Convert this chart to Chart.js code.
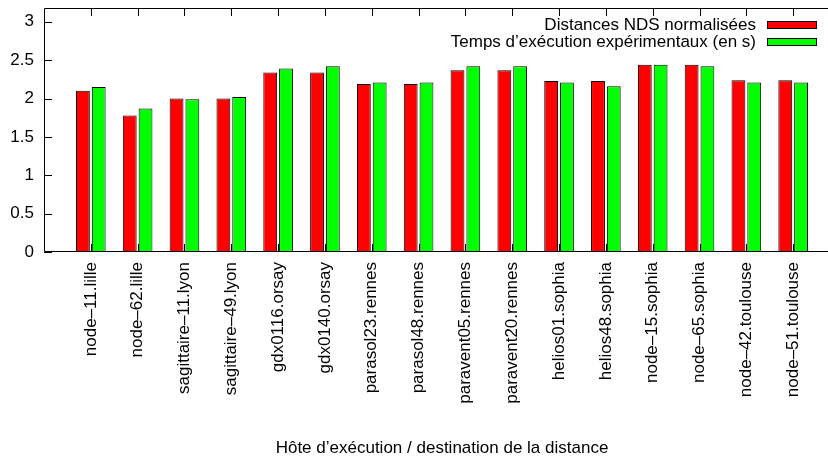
<!DOCTYPE html>
<html lang="fr">
<head>
    <meta charset="UTF-8">
    <title>Distances NDS / temps d'exécution</title>
    <style>
        html, body {
            margin: 0;
            padding: 0;
            overflow: hidden;
            background: #fff;
        }
        canvas { display: block; }
    </style>
    <script src="https://cdn.jsdelivr.net/npm/chart.js"></script>
</head>
<body>
    <canvas id="ndsChart" width="842" height="462"></canvas>

    <script>
        // Données
        const hosts = [
            'node–11.lille', 'node–62.lille', 'sagittaire–11.lyon', 'sagittaire–49.lyon',
            'gdx0116.orsay', 'gdx0140.orsay', 'parasol23.rennes', 'parasol48.rennes',
            'paravent05.rennes', 'paravent20.rennes', 'helios01.sophia', 'helios48.sophia',
            'node–15.sophia', 'node–65.sophia', 'node–42.toulouse', 'node–51.toulouse'
        ];
        const ndsDistances = [2.10, 1.78, 2.00, 2.00, 2.34, 2.34, 2.19, 2.19, 2.37, 2.37, 2.23, 2.23, 2.44, 2.44, 2.24, 2.24];
        const execTimes    = [2.15, 1.87, 1.99, 2.02, 2.39, 2.42, 2.21, 2.21, 2.42, 2.42, 2.21, 2.16, 2.44, 2.42, 2.21, 2.21];
        const yTicks = [0, 0.5, 1, 1.5, 2, 2.5, 3];
        const seriesLabels = ['Distances NDS normalisées', 'Temps d’exécution expérimentaux (en s)'];

        const FONT = 'Liberation Sans, Arial, sans-serif';

        // pas de marges automatiques autour des axes
        function noPadding(scale) {
            scale.paddingTop = 0;
            scale.paddingBottom = 0;
            scale.paddingLeft = 0;
            scale.paddingRight = 0;
        }

        // Cadre + graduations vers l'intérieur (style gnuplot)
        const framePlugin = {
            id: 'frame',
            afterDraw(chart) {
                const { ctx, chartArea: a, scales } = chart;
                ctx.save();
                ctx.strokeStyle = '#000';
                ctx.lineWidth = 1;
                ctx.beginPath();
                ctx.rect(a.left + 0.5, a.top + 0.5, a.right - a.left - 1, a.bottom - a.top - 1);
                yTicks.forEach(v => {
                    const y = Math.round(scales.y.getPixelForValue(v)) + 0.5;
                    ctx.moveTo(a.left, y); ctx.lineTo(a.left + 8, y);
                    ctx.moveTo(a.right, y); ctx.lineTo(a.right - 8, y);
                });
                hosts.forEach((h, i) => {
                    const x = Math.round(scales.x.getPixelForValue(i)) + 0.5;
                    ctx.moveTo(x, a.top); ctx.lineTo(x, a.top + 8);
                    ctx.moveTo(x, a.bottom); ctx.lineTo(x, a.bottom - 8);
                });
                ctx.stroke();

                // légende : texte puis échantillon
                ctx.font = '17px ' + FONT;
                ctx.textAlign = 'right';
                ctx.textBaseline = 'middle';
                chart.data.datasets.forEach((ds, i) => {
                    const yc = a.top + 17 + i * 17;
                    ctx.fillStyle = '#000';
                    ctx.fillText(ds.label, a.right - 84, yc);
                    ctx.fillStyle = ds.backgroundColor;
                    ctx.fillRect(a.right - 73, yc - 4, 50, 8);
                    ctx.strokeRect(a.right - 72.5, yc - 3.5, 49, 7);
                });
                ctx.restore();
            }
        };

        const ctx = document.getElementById('ndsChart').getContext('2d');
        new Chart(ctx, {
            type: 'bar',
            data: {
                datasets: [{
                    label: seriesLabels[0],
                    data: ndsDistances.map((v, i) => ({ x: i, y: v })),
                    backgroundColor: '#ff0000',
                    borderColor: '#000',
                    borderWidth: 1
                }, {
                    label: seriesLabels[1],
                    data: execTimes.map((v, i) => ({ x: i, y: v })),
                    backgroundColor: '#00ff00',
                    borderColor: '#000',
                    borderWidth: 1
                }]
            },
            options: {
                responsive: false,
                animation: false,
                categoryPercentage: 0.675,
                barPercentage: 0.875,
                layout: { padding: { top: 8, right: 2, left: 0, bottom: 0 } },
                plugins: {
                    legend: { display: false },
                    tooltip: { enabled: false }
                },
                scales: {
                    x: {
                        type: 'linear',
                        offset: false,
                        min: -1,
                        max: 16,
                        grid: { display: false, drawTicks: false },
                        border: { display: false },
                        afterBuildTicks: scale => {
                            scale.ticks = hosts.map((h, i) => ({ value: i }));
                        },
                        afterFit: scale => { scale.height = 210; noPadding(scale); },
                        ticks: {
                            autoSkip: false,
                            minRotation: 90,
                            maxRotation: 90,
                            padding: 10,
                            color: '#000',
                            font: { family: FONT, size: 17 },
                            callback: v => hosts[v]
                        },
                        title: {
                            display: true,
                            text: 'Hôte d’exécution / destination de la distance',
                            color: '#000',
                            font: { family: FONT, size: 17 },
                            padding: { top: 0, bottom: 3 }
                        }
                    },
                    y: {
                        min: 0,
                        max: 3.18,
                        grid: { display: false, drawTicks: false },
                        border: { display: false },
                        afterBuildTicks: scale => {
                            scale.ticks = yTicks.map(v => ({ value: v }));
                        },
                        afterFit: scale => { scale.width = 44; noPadding(scale); },
                        ticks: {
                            padding: 10,
                            color: '#000',
                            font: { family: FONT, size: 17 },
                            callback: v => String(v)
                        }
                    }
                }
            },
            plugins: [framePlugin]
        });
    </script>
</body>
</html>
